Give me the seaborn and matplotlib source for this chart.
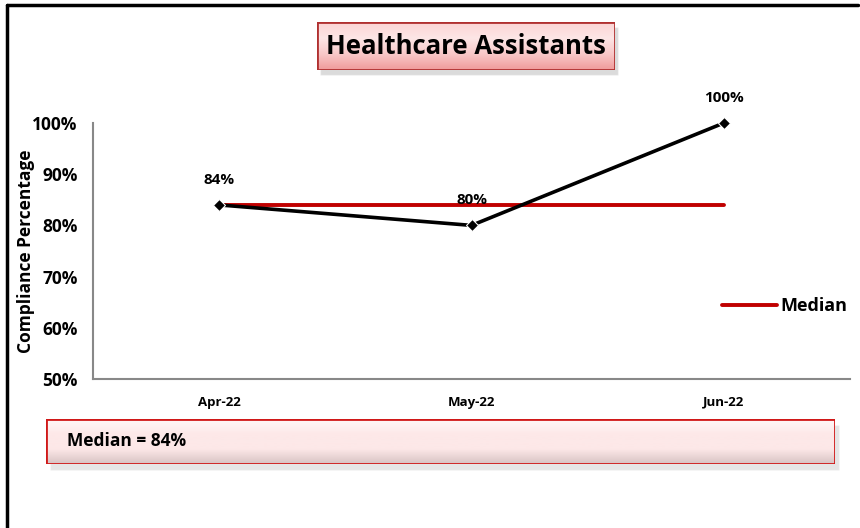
import numpy as np
import pandas as pd
import seaborn as sns
import matplotlib.pyplot as plt
from matplotlib.colors import LinearSegmentedColormap
from matplotlib.patches import Rectangle
from matplotlib.lines import Line2D

sns.set_style('white')
plt.rcParams['font.family'] = ['Open Sans', 'DejaVu Sans']
plt.rcParams['text.color'] = 'black'
plt.rcParams['axes.labelcolor'] = 'black'
plt.rcParams['xtick.color'] = 'black'
plt.rcParams['ytick.color'] = 'black'

months = ['Apr-22', 'May-22', 'Jun-22']
compliance = [0.84, 0.80, 1.00]
median_value = 0.84
y_ticks = [0.5, 0.6, 0.7, 0.8, 0.9, 1.0]

df = pd.DataFrame({'month': months, 'compliance': compliance,
                   'median': [median_value] * len(months)})

fig = plt.figure(figsize=(8.6, 5.28), dpi=100)
ax = fig.add_axes([93 / 860, 1 - 379 / 528, 757 / 860, 256 / 528])

# median line and compliance line
sns.lineplot(data=df, x='month', y='median', ax=ax, color='#c00000',
             linewidth=2.8, label='Median', sort=False)
sns.lineplot(data=df, x='month', y='compliance', ax=ax, color='black',
             linewidth=2.6, marker='D', markersize=6, sort=False, legend=False,
             clip_on=False)

for i, v in enumerate(compliance):
    ax.text(i, v + 0.035, f'{v:.0%}', ha='center', va='bottom',
            fontsize=11, fontweight='bold')

ax.set_xlim(-0.5, 2.5)
ax.set_ylim(0.5, 1.0)
ax.set_yticks(y_ticks)
ax.set_yticklabels([f'{t:.0%}' for t in y_ticks], fontsize=12.5, fontweight='bold')
ax.set_xticks(range(len(months)))
ax.set_xticklabels(months, fontsize=9.5, fontweight='bold')
ax.tick_params(axis='y', length=5, color='#888888', width=1.2, pad=6, direction='out')
ax.tick_params(axis='x', length=0, pad=12)
ax.set_xlabel('')
ax.set_ylabel('Compliance Percentage', fontsize=12.5, fontweight='bold')
ax.yaxis.set_label_coords(-0.076, 0.5)
for side in ['top', 'right']:
    ax.spines[side].set_visible(False)
for side in ['left', 'bottom']:
    ax.spines[side].set_color('#888888')
    ax.spines[side].set_linewidth(1.5)
ax.set_facecolor('none')

leg = ax.legend(loc='center left', bbox_to_anchor=(0.81, 0.285), frameon=False,
                handlelength=3.0, handletextpad=0.2, prop={'weight': 'bold', 'size': 13})

# title box with gradient
pink = LinearSegmentedColormap.from_list('pink', ['#f09c9c', '#f8c8c8', '#fde6e6', '#fbd4d4'])
fig.patches.append(Rectangle((320 / 860, 1 - 75 / 528), 298 / 860, 48 / 528,
                             transform=fig.transFigure, facecolor='#999999',
                             alpha=0.35, zorder=-1))
tax = fig.add_axes([317 / 860, 1 - 70 / 528, 298 / 860, 48 / 528])
tax.imshow(np.linspace(0, 1, 50).reshape(-1, 1), extent=[0, 1, 0, 1],
           aspect='auto', cmap=pink, origin='lower')
tax.add_patch(Rectangle((0, 0), 1, 1, fill=False, edgecolor='#b03030',
                        linewidth=2, transform=tax.transAxes))
tax.text(0.5, 0.5, 'Healthcare Assistants', ha='center', va='center',
         fontsize=18.5, fontweight='bold', transform=tax.transAxes)
tax.set_axis_off()

# median summary box
fig.patches.append(Rectangle((50 / 860, 1 - 470 / 528), 789 / 860, 45 / 528,
                             transform=fig.transFigure, facecolor='#aaaaaa',
                             alpha=0.3, zorder=-1))
max_ = fig.add_axes([46 / 860, 1 - 464 / 528, 789 / 860, 45 / 528])
soft = LinearSegmentedColormap.from_list('soft', ['#d8c4c4', '#fde8e8', '#fde8e8', '#fff8f8'])
max_.imshow(np.linspace(0, 1, 50).reshape(-1, 1), extent=[0, 1, 0, 1],
            aspect='auto', cmap=soft, origin='lower')
max_.add_patch(Rectangle((0, 0), 1, 1, fill=False, edgecolor='#d01818',
                         linewidth=2, transform=max_.transAxes))
max_.text(0.026, 0.5, f'Median = {median_value:.0%}', ha='left', va='center',
          fontsize=12.5, fontweight='bold', transform=max_.transAxes)
max_.set_axis_off()

# outer frame (left and top edges)
fig.add_artist(Line2D([7 / 860, 7 / 860], [0, 1 - 5 / 528], color='black',
                      linewidth=2.5, transform=fig.transFigure))
fig.add_artist(Line2D([7 / 860, 858 / 860], [1 - 5 / 528, 1 - 5 / 528], color='black',
                      linewidth=2.5, transform=fig.transFigure))

fig.savefig('out.png', dpi=100)
